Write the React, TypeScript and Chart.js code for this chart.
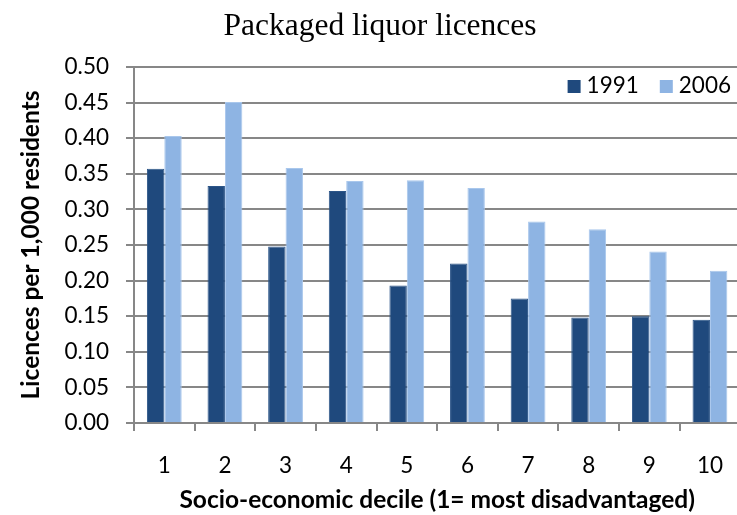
import React, { useEffect, useRef } from "react";
import { Chart, registerables } from "chart.js";

Chart.register(...registerables);

const chartTitle = "Packaged liquor licences";
const xAxisTitle = "Socio-economic decile (1= most disadvantaged)";
const yAxisTitle = "Licences per 1,000 residents";

const deciles = ["1", "2", "3", "4", "5", "6", "7", "8", "9", "10"];
const seriesNames = ["1991", "2006"];
const values1991 = [0.357, 0.333, 0.248, 0.326, 0.193, 0.224, 0.175, 0.148, 0.15, 0.145];
const values2006 = [0.403, 0.451, 0.358, 0.34, 0.341, 0.33, 0.283, 0.272, 0.241, 0.214];
const seriesColors = ["#1F497D", "#8EB4E3"];
const seriesEdges = ["#2C5588", "#A9C7EC"];

const yMin = 0;
const yMax = 0.5;
const yStep = 0.05;

const gridColor = "#878787";
const labelFont = "Lato";

const insideLegend = {
  id: "insideLegend",
  afterDraw(chart: any) {
    const ctx = chart.ctx;
    const area = chart.chartArea;
    ctx.save();
    ctx.font = `22.5px ${labelFont}`;
    ctx.textAlign = "left";
    ctx.textBaseline = "alphabetic";
    ctx.fillStyle = "#000";
    const box = 13;
    const gapText = 6;
    const gapItem = 21;
    const baseline = area.top + 26;
    let right = chart.width - 13;
    const items = chart.data.datasets.map((d: any) => ({ label: d.label, color: d.backgroundColor }));
    for (let i = items.length - 1; i >= 0; i--) {
      const it = items[i];
      const w = ctx.measureText(it.label).width;
      const textX = right - w;
      const boxX = textX - gapText - box;
      ctx.fillStyle = it.color;
      ctx.fillRect(boxX, baseline - box, box, box);
      ctx.fillStyle = "#000";
      ctx.fillText(it.label, textX, baseline);
      right = boxX - gapItem;
    }
    ctx.restore();
  },
};

export default function App() {
  const canvasRef = useRef<HTMLCanvasElement | null>(null);

  useEffect(() => {
    const canvas = canvasRef.current;
    if (!canvas) return;
    const chart = new Chart(canvas, {
      type: "bar",
      data: {
        labels: deciles,
        datasets: [
          {
            label: seriesNames[0],
            data: values1991,
            backgroundColor: seriesColors[0],
            borderColor: seriesEdges[0],
            borderWidth: 1,
            categoryPercentage: 0.574,
            barPercentage: 1,
          },
          {
            label: seriesNames[1],
            data: values2006,
            backgroundColor: seriesColors[1],
            borderColor: seriesEdges[1],
            borderWidth: 1,
            categoryPercentage: 0.574,
            barPercentage: 1,
          },
        ],
      },
      options: {
        responsive: false,
        animation: false,
        devicePixelRatio: 1,
        layout: { padding: { left: 16, right: 0, top: 0, bottom: 0 } },
        plugins: {
          legend: { display: false },
          tooltip: { enabled: false },
          title: {
            display: true,
            text: chartTitle,
            color: "#000",
            font: { family: "'Liberation Serif', 'Times New Roman', serif", size: 31.5, weight: "normal" },
            padding: { top: 7.5, bottom: 21.7 },
          },
        },
        scales: {
          x: {
            grid: {
              offset: true,
              drawOnChartArea: false,
              drawTicks: true,
              tickLength: 8,
              color: gridColor,
              lineWidth: 2,
            },
            border: { display: true, color: gridColor, width: 2 },
            ticks: {
              color: "#000",
              padding: 21,
              font: { family: labelFont, size: 22.5 },
            },
            title: {
              display: true,
              text: xAxisTitle,
              color: "#000",
              font: { family: labelFont, size: 24.5, weight: "bold" },
              padding: { top: 0, bottom: 0 },
            },
            afterFit(scale: any) {
              scale.height = 92;
            },
          },
          y: {
            min: yMin,
            max: yMax,
            grid: {
              color: gridColor,
              lineWidth: 2,
              drawTicks: true,
              tickLength: 8,
            },
            border: { display: true, color: gridColor, width: 2 },
            ticks: {
              stepSize: yStep,
              color: "#000",
              padding: 17,
              font: { family: labelFont, size: 22.5 },
              callback: (v: any) => Number(v).toFixed(2),
            },
            title: {
              display: true,
              text: yAxisTitle,
              color: "#000",
              font: { family: labelFont, size: 24.5, weight: "bold" },
              padding: { top: 0, bottom: 0 },
            },
            afterFit(scale: any) {
              scale.width = 118;
            },
          },
        },
      },
      plugins: [insideLegend],
    });
    return () => chart.destroy();
  }, []);

  return (
    <div
      style={{
        position: "fixed",
        left: 0,
        top: 0,
        width: 737,
        height: 515,
        overflow: "hidden",
        background: "#fff",
      }}
    >
      <canvas ref={canvasRef} width={744} height={515} style={{ display: "block", width: 744, height: 515 }} />
    </div>
  );
}
